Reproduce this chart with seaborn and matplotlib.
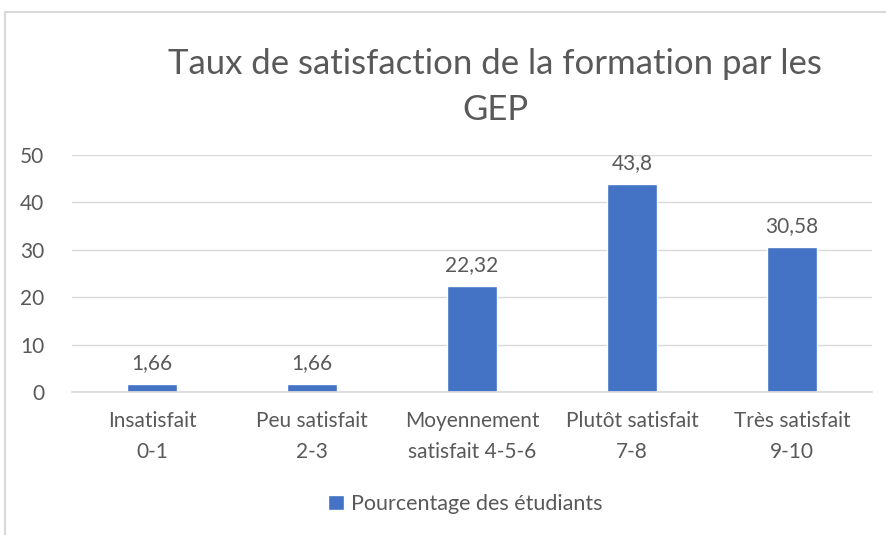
import matplotlib
import matplotlib.pyplot as plt
import pandas as pd
import seaborn as sns
from matplotlib.patches import Rectangle

matplotlib.use("Agg")

# data
CATEGORIES = [
    "Insatisfait\n0-1",
    "Peu satisfait\n2-3",
    "Moyennement\nsatisfait 4-5-6",
    "Plutôt satisfait\n7-8",
    "Très satisfait\n9-10",
]
VALUES = [1.66, 1.66, 22.32, 43.8, 30.58]
VALUE_LABELS = ["1,66", "1,66", "22,32", "43,8", "30,58"]
SERIES_NAME = "Pourcentage des étudiants"
TITLE = "Taux de satisfaction de la formation par les\nGEP"
Y_TICKS = [0, 10, 20, 30, 40, 50]

BAR_COLOR = "#4472C4"
TEXT_COLOR = "#595959"
GRID_COLOR = "#D9D9D9"

sns.set_theme(style="white")
plt.rcParams["font.family"] = ["Lato", "DejaVu Sans"]

df = pd.DataFrame({"categorie": CATEGORIES, "valeur": VALUES, "serie": SERIES_NAME})

W, H = 887, 535
fig = plt.figure(figsize=(W / 100, H / 100), dpi=100)
ax = fig.add_axes([72 / W, (H - 392) / H, 800 / W, (392 - 155) / H])

sns.barplot(
    data=df, x="categorie", y="valeur", hue="serie",
    palette=[BAR_COLOR], width=0.31, ax=ax, legend=True, saturation=1,
)

ax.set_ylim(0, 50)
ax.set_xlim(-0.5, len(CATEGORIES) - 0.5)
ax.set_yticks(Y_TICKS)
ax.set_yticklabels([str(t) for t in Y_TICKS], color=TEXT_COLOR, fontsize=15)
ax.tick_params(axis="x", colors=TEXT_COLOR, labelsize=15, length=0, pad=14)
ax.tick_params(axis="y", length=0, pad=20)
for lbl in ax.get_xticklabels():
    lbl.set_linespacing(1.65)
ax.set_xlabel("")
ax.set_ylabel("")
ax.yaxis.grid(True, color=GRID_COLOR, linewidth=1)
ax.set_axisbelow(True)
for side in ["top", "right", "left"]:
    ax.spines[side].set_visible(False)
ax.spines["bottom"].set_color(GRID_COLOR)

for container in ax.containers:
    ax.bar_label(container, labels=VALUE_LABELS, padding=8, fontsize=15, color=TEXT_COLOR)

ax.legend_.remove()
fig.legend(
    loc="center", bbox_to_anchor=(465 / W, (H - 504) / H), frameon=False,
    fontsize=15.5, labelcolor=TEXT_COLOR, handlelength=0.75, handleheight=0.75,
    handletextpad=0.3,
)

fig.text(495 / W, (H - 87) / H, TITLE, ha="center", va="center",
         fontsize=25, color=TEXT_COLOR, linespacing=1.5)

# chart frame
fig.patches.append(Rectangle((5 / W, -0.1), 1.2, (H - 12) / H + 0.1,
                             transform=fig.transFigure, fill=False,
                             edgecolor=GRID_COLOR, linewidth=1.5))

fig.savefig("out.png", dpi=100)
